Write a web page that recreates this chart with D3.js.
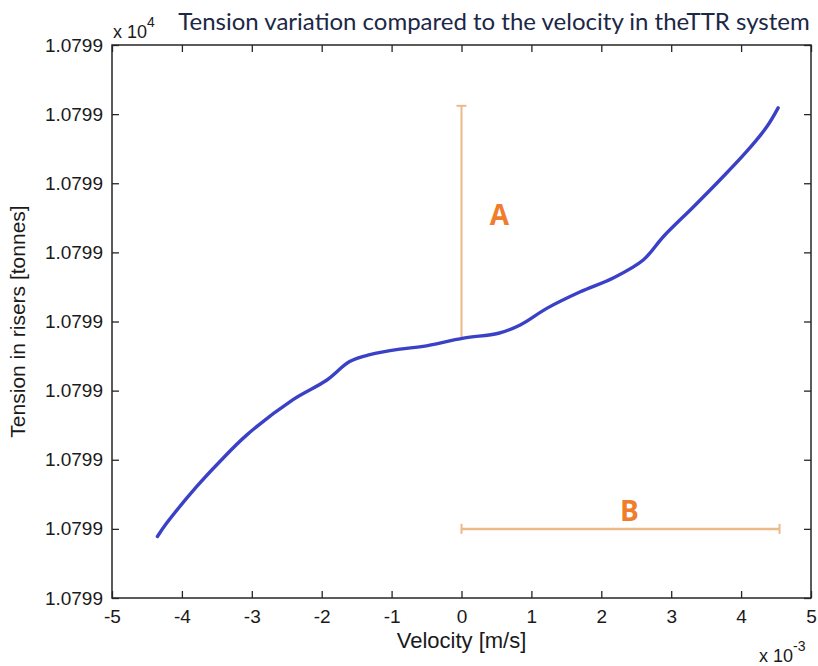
<!DOCTYPE html>
<html>
<head>
<meta charset="utf-8">
<script src="https://cdn.jsdelivr.net/npm/d3@7"></script>
<style>
  body { margin: 0; background: #fff; }
</style>
</head>
<body>
<div id="chart"></div>
<script>
// velocity, in units of 1e-3 m/s
var velocity = [-4.35, -4.22, -3.79, -3.48, -3.07, -2.41, -1.93, -1.60, -1.31, -0.88, -0.55, 0.03, 0.53,
                0.84, 1.22, 1.70, 2.17, 2.60, 2.89, 3.32, 3.70, 4.08, 4.37, 4.53];
// tension, measured in tick steps above the lowest tick
var tension = [0.89, 1.08, 1.61, 1.95, 2.36, 2.87, 3.15, 3.42, 3.52, 3.60, 3.64, 3.76, 3.83,
               3.95, 4.19, 4.43, 4.63, 4.89, 5.23, 5.66, 6.05, 6.46, 6.82, 7.09];

var xTicks = [-5, -4, -3, -2, -1, 0, 1, 2, 3, 4, 5];
var yTicks = [0, 1, 2, 3, 4, 5, 6, 7, 8];
var yTickLabels = ["1.0799", "1.0799", "1.0799", "1.0799", "1.0799", "1.0799", "1.0799", "1.0799", "1.0799"];

// annotation bars A (vertical) and B (horizontal)
var barAVelocity = [0, 0];
var barATension = [3.76, 7.12];
var barBVelocity = [0, 4.55];
var barBTension = [1.0, 1.0];

var titleText = "Tension variation compared to the velocity in theTTR system";

var W = 818, H = 666;
var margin = {top: 45, right: 7, bottom: 68, left: 112},
    width = W - margin.left - margin.right,
    height = H - margin.top - margin.bottom;

var svg = d3.select("#chart").append("svg")
    .attr("width", W)
    .attr("height", H);

var g = svg.append("g")
    .attr("transform", "translate(" + margin.left + "," + margin.top + ")");

var x = d3.scaleLinear().domain([-5, 5]).range([0, width]);
var y = d3.scaleLinear().domain([0, 8]).range([height, 0]);

var axisColor = "#262626";
var tickFont = "19px 'Liberation Sans', Arial, sans-serif";

function styleAxis(sel, showText) {
  sel.select(".domain").remove();
  sel.selectAll(".tick line").attr("stroke", axisColor).attr("stroke-width", 1.3);
  sel.selectAll(".tick text")
    .attr("fill", "#1a1a1a")
    .style("font", tickFont)
    .style("display", showText ? null : "none");
}

// bottom axis
g.append("g")
  .attr("transform", "translate(0," + height + ")")
  .call(d3.axisBottom(x).tickValues(xTicks).tickSizeInner(-7).tickSizeOuter(0).tickPadding(12)
    .tickFormat(function(d) { return String(d); }))
  .call(styleAxis, true);

// top axis, ticks only
g.append("g")
  .call(d3.axisTop(x).tickValues(xTicks).tickSizeInner(-7).tickSizeOuter(0))
  .call(styleAxis, false);

// left axis
g.append("g")
  .call(d3.axisLeft(y).tickValues(yTicks).tickSizeInner(-7).tickSizeOuter(0).tickPadding(9)
    .tickFormat(function(d, i) { return yTickLabels[i]; }))
  .call(styleAxis, true);

// right axis, ticks only
g.append("g")
  .attr("transform", "translate(" + width + ",0)")
  .call(d3.axisRight(y).tickValues(yTicks).tickSizeInner(-7).tickSizeOuter(0))
  .call(styleAxis, false);

// box
g.append("rect")
  .attr("width", width)
  .attr("height", height)
  .attr("fill", "none")
  .attr("stroke", axisColor)
  .attr("stroke-width", 1.5);

// annotation bars
var barColor = "#ecb989";
var capSize = 5;

g.append("line")
  .attr("x1", x(barAVelocity[0])).attr("x2", x(barAVelocity[1]))
  .attr("y1", y(barATension[0])).attr("y2", y(barATension[1]))
  .attr("stroke", barColor).attr("stroke-width", 2);
g.append("line")
  .attr("x1", x(barAVelocity[1]) - capSize).attr("x2", x(barAVelocity[1]) + capSize)
  .attr("y1", y(barATension[1])).attr("y2", y(barATension[1]))
  .attr("stroke", barColor).attr("stroke-width", 2);

g.append("line")
  .attr("x1", x(barBVelocity[0])).attr("x2", x(barBVelocity[1]))
  .attr("y1", y(barBTension[0])).attr("y2", y(barBTension[1]))
  .attr("stroke", barColor).attr("stroke-width", 2.5);
barBVelocity.forEach(function(v) {
  g.append("line")
    .attr("x1", x(v)).attr("x2", x(v))
    .attr("y1", y(barBTension[0]) - capSize).attr("y2", y(barBTension[0]) + capSize)
    .attr("stroke", barColor).attr("stroke-width", 2);
});

// the curve
var line = d3.line()
  .x(function(d, i) { return x(velocity[i]); })
  .y(function(d, i) { return y(tension[i]); })
  .curve(d3.curveCatmullRom);

g.append("path")
  .datum(velocity)
  .attr("d", line)
  .attr("fill", "none")
  .attr("stroke", "#3b41c6")
  .attr("stroke-width", 3.4)
  .attr("stroke-linejoin", "round")
  .attr("stroke-linecap", "round");

// A and B labels
var labelFont = "bold 28px 'Open Sans', 'Noto Sans', sans-serif";
g.append("text")
  .attr("x", x(barAVelocity[0]) + 38)
  .attr("y", y((barATension[0] + barATension[1]) / 2) + 3)
  .attr("text-anchor", "middle")
  .style("font", labelFont)
  .attr("fill", "#f07d2c")
  .text("A");
g.append("text")
  .attr("x", x((barBVelocity[0] + barBVelocity[1]) / 2) + 9)
  .attr("y", y(barBTension[0]) - 8)
  .attr("text-anchor", "middle")
  .style("font", labelFont)
  .attr("fill", "#f07d2c")
  .text("B");

// axis labels
svg.append("text")
  .attr("x", margin.left + width / 2)
  .attr("y", 648)
  .attr("text-anchor", "middle")
  .style("font", "22px 'Liberation Sans', Arial, sans-serif")
  .attr("fill", "#1a1a1a")
  .text("Velocity [m/s]");

svg.append("text")
  .attr("transform", "translate(25," + (margin.top + height / 2) + ") rotate(-90)")
  .attr("text-anchor", "middle")
  .style("font", "21px 'Liberation Sans', Arial, sans-serif")
  .attr("fill", "#1a1a1a")
  .text("Tension in risers [tonnes]");

// exponent labels
function exponent(xp, yp, power) {
  var t = svg.append("text")
    .attr("x", xp).attr("y", yp)
    .style("font", "18px 'Liberation Sans', Arial, sans-serif")
    .attr("fill", "#1a1a1a");
  t.append("tspan").text("x 10");
  t.append("tspan").attr("dy", -11).style("font-size", "14px").text(power);
}
exponent(113, 38, "4");
exponent(759, 662, "-3");

// title
svg.append("text")
  .attr("x", 494)
  .attr("y", 30)
  .attr("text-anchor", "middle")
  .style("font", "24px Lato, 'Open Sans', sans-serif")
  .attr("fill", "#1c2746")
  .text(titleText);
</script>
</body>
</html>
